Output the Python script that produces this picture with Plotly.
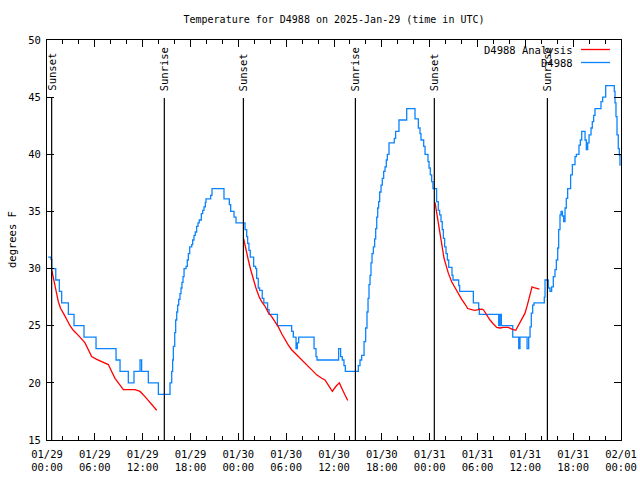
import pandas as pd
import plotly.graph_objects as go

BASE = pd.Timestamp("2025-01-29 00:00")

# Observed station temperature (hours since 01/29 00:00 UTC, degrees F), step series
obs_hours = [0.15, 0.5, 0.6, 1.1, 1.55, 1.84, 2.68, 3.39, 4.64, 6.15, 8.66, 9.16, 10.2, 10.91,
             11.67, 11.87, 12.71, 13.97, 15.43, 15.64, 15.76, 15.85, 16.02, 16.14, 16.27, 16.39,
             16.52, 16.68, 16.81, 16.93, 17.06, 17.19, 17.44, 17.6, 17.73, 17.9, 18.15, 18.27,
             18.44, 18.6, 18.77, 18.94, 19.1, 19.36, 19.53, 19.69, 19.86, 19.94, 20.53, 20.7,
             22.2, 22.87, 23.04, 23.46, 23.71, 24.84, 25.05, 25.17, 25.33, 25.5, 25.92, 26.17,
             26.3, 26.5, 26.67, 27.0, 27.2, 27.67, 27.85, 28.9, 30.69, 30.9, 31.24, 31.4, 31.57,
             33.5, 33.74, 33.87, 36.58, 36.83, 37.04, 37.25, 37.42, 39.05, 39.26, 39.47, 39.56,
             39.77, 39.97, 40.14, 40.27, 40.39, 40.52, 40.64, 40.77, 40.94, 41.1, 41.23, 41.36,
             41.48, 41.6, 41.73, 41.9, 42.06, 42.23, 42.4, 42.56, 42.69, 42.9, 43.56, 43.73,
             44.15, 45.12, 46.16, 46.58, 46.79, 46.91, 47.25, 47.42, 47.79, 47.92, 48.08, 48.25,
             48.41, 48.87, 49.08, 49.25, 49.42, 49.58, 49.72, 49.88, 50.05, 50.22, 50.39, 50.8,
             50.93, 51.64, 51.77, 53.48, 54.15, 54.23, 56.66, 56.82, 56.99, 58.42, 59.17, 59.33,
             60.22, 60.42, 60.59, 60.75, 60.92, 61.09, 62.38, 62.47, 62.89, 63.09, 63.3, 63.51,
             63.72, 63.89, 64.06, 64.18, 64.35, 64.48, 64.65, 64.81, 64.98, 65.14, 65.31, 65.68,
             65.9, 66.23, 66.4, 66.73, 66.9, 67.07, 67.49, 67.65, 67.82, 67.99, 68.24, 68.4,
             68.57, 68.74, 69.49, 69.7, 70.08, 71.16, 71.25, 71.37, 71.5, 71.66, 71.79, 71.87,
             71.95]
obs_temps = [31, 30.8, 30, 29, 28, 27, 26, 25, 24, 23, 22, 21, 20, 21,
             22, 21, 20, 19, 20, 21, 22, 23.2, 24.4, 25.5, 26.2, 26.8,
             27.3, 27.8, 28.3, 28.8, 29.3, 30.0, 30.2, 30.75, 31.3, 31.9, 32.1, 32.5,
             32.9, 33.2, 33.7, 34.0, 34.25, 34.8, 35.1, 35.4, 35.8, 36.1, 36.4, 37.0,
             36.1, 35.6, 35.0, 34.5, 34.0, 33.4, 32.8, 32.2, 31.6, 31.0, 30.2, 30.0,
             29.15, 28.3, 28.1, 27.4, 27.0, 26.4, 26.0, 25.0, 24.5, 24.0, 23.0, 23.5, 24.0,
             23.0, 22.3, 22.0, 23.0, 22.3, 22.0, 21.5, 21.0, 21.5, 22.0, 22.4, 22.4,
             23.6, 24.8, 26.2, 27.4, 28.6, 29.4, 30.5, 31.3, 31.9, 32.6, 33.5, 34.5,
             35.3, 35.85, 36.7, 37.3, 37.9, 38.5, 38.9, 39.5, 40.0, 41.0, 41.4, 42.0,
             43.0, 44.0, 43.1, 42.3, 41.8, 41.25, 40.7, 40.0, 39.35, 38.8, 38.2, 37.6,
             37.0, 35.85, 35.1, 34.7, 34.1, 33.4, 32.65, 31.9, 31.3, 30.75, 30.1, 29.4,
             29.0, 28.5, 28.0, 27.0, 26.5, 26.0, 25, 26, 25, 24, 23, 24,
             23, 24, 24.9, 26.1, 26.8, 27, 27.5, 29.0, 28.3, 28.0, 28.4, 29.3,
             29.9, 30.75, 31.8, 33.4, 34.7, 35.0, 34.6, 34.1, 35.3, 36.15, 37.0, 38.2,
             39.1, 39.8, 40.0, 40.8, 41.25, 42.0, 41.25, 40.4, 41.0, 41.7, 42.3, 42.85,
             43.4, 44.0, 44.6, 45.0, 46.0, 45.5, 44.5, 43.3, 41.7, 40.5, 39.9, 39.05,
             39.05]

# Analysis temperature (three nightly segments, None = gap)
ana_hours = [0.59, 0.79, 1.0, 1.21, 1.42, 1.71, 2.05, 2.47, 2.89, 3.3, 3.72, 4.14, 4.77, 5.19,
             5.6, 6.23, 6.86, 7.69, 8.11, 8.53, 9.16, 9.58, 11.04, 11.67, 12.29, 12.92, 13.76,
             None,
             24.67, 24.96, 25.25, 25.55, 25.88, 26.21, 26.63, 26.93, 27.35, 27.76, 28.18, 28.6,
             29.02, 29.44, 29.85, 30.27, 30.69, 31.11, 31.52, 32.15, 32.78, 33.2, 33.83, 34.46,
             34.87, 35.29, 35.79, 36.25, 36.67, 37.17, 37.72,
             None,
             48.67, 48.92, 49.17, 49.4, 49.6, 49.8, 50.05, 50.34, 50.76, 51.18, 51.59, 52.02,
             52.43, 52.77, 53.27, 53.69, 54.1, 54.53, 54.74, 55.15, 55.57, 55.99, 56.41, 56.82,
             57.24, 57.87, 58.3, 58.8, 59.21, 59.55, 59.96, 60.25, 60.59, 60.84, 61.21, 61.76]
ana_temps = [29.9, 29.3, 28.7, 27.8, 27.1, 26.5, 26.1, 25.5, 25.0, 24.6, 24.25, 24.0, 23.5, 22.9,
             22.3, 22.05, 21.85, 21.6, 21.0, 20.4, 19.8, 19.4, 19.4, 19.25, 18.8, 18.3, 17.6,
             None,
             32.6, 31.8, 30.75, 29.9, 29.0, 28.3, 27.5, 27.1, 26.7, 26.15, 25.8, 25.35,
             24.9, 24.3, 23.75, 23.3, 22.9, 22.6, 22.3, 21.85, 21.4, 21.1, 20.7, 20.4,
             20.25, 19.8, 19.25, 19.7, 20.0, 19.25, 18.45,
             None,
             35.8, 34.8, 33.7, 32.6, 31.7, 30.9, 30.3, 29.6, 28.85, 28.3, 27.8, 27.3,
             26.9, 26.5, 26.4, 26.35, 26.4, 26.45, 26.4, 25.9, 25.5, 25.15, 24.85, 24.8,
             24.85, 24.85, 24.7, 24.6, 25.1, 25.5, 26.1, 26.8, 27.7, 28.4, 28.3, 28.2]

sun_times = ["2025-01-29 00:35", "2025-01-29 14:43", "2025-01-30 00:38",
             "2025-01-30 14:41", "2025-01-31 00:35", "2025-01-31 14:46"]
sun_labels = ["Sunset", "Sunrise", "Sunset", "Sunrise", "Sunset", "Sunrise"]

title_text = "Temperature for D4988 on 2025-Jan-29 (time in UTC)"
y_title = "degrees F"
ana_name = "D4988 Analysis"
obs_name = "D4988"
RED = "#ff0000"
BLUE = "#0a84ff"
FONT = "DejaVu Sans Mono"


def to_time(hours):
    return [None if h is None else BASE + pd.Timedelta(hours=h) for h in hours]


fig = go.Figure()
fig.add_trace(go.Scatter(x=to_time(obs_hours), y=obs_temps, mode="lines",
                         line=dict(color=BLUE, width=1.3, shape="hv"), name=obs_name,
                         showlegend=False))
fig.add_trace(go.Scatter(x=to_time(ana_hours), y=ana_temps, mode="lines",
                         line=dict(color=RED, width=1.3), name=ana_name,
                         connectgaps=False, showlegend=False))

L, R, T, B = 47, 19, 40, 40
W, H = 640, 480
pw, ph = W - L - R, H - T - B


def px(xp):
    return (xp - L) / pw


def py(yp):
    return (H - B - yp) / ph


shapes = []
annotations = []
for t, lab in zip(sun_times, sun_labels):
    shapes.append(dict(type="line", xref="x", yref="paper", x0=t, x1=t, y0=0, y1=py(98),
                       line=dict(color="black", width=1.2)))
    annotations.append(dict(x=t, xref="x", y=py(93), yref="paper", text=lab, textangle=-90,
                            showarrow=False, xanchor="center", yanchor="bottom",
                            font=dict(family=FONT, size=10.5, color="black")))

# legend (text left of sample, as in the reference)
for name, color, ypix in [(ana_name, RED, 49.5), (obs_name, BLUE, 62.5)]:
    annotations.append(dict(x=px(575), xref="paper", y=py(ypix), yref="paper", text=name,
                            showarrow=False, xanchor="right", yanchor="middle",
                            font=dict(family=FONT, size=10.5, color="black")))
    shapes.append(dict(type="line", xref="paper", yref="paper", x0=px(581), x1=px(610),
                       y0=py(ypix), y1=py(ypix), line=dict(color=color, width=1.3)))

annotations.append(dict(x=px(12), xref="paper", y=0.5, yref="paper", text=y_title,
                        textangle=-90, showarrow=False, xanchor="center", yanchor="middle",
                        font=dict(family=FONT, size=10.5, color="black")))

fig.update_layout(
    width=W, height=H,
    margin=dict(l=L, r=R, t=T, b=B, pad=0, autoexpand=False),
    paper_bgcolor="white", plot_bgcolor="white",
    font=dict(family=FONT, size=10.5, color="black"),
    title=dict(text=title_text, xref="paper", x=px(334), xanchor="center",
               yref="container", y=1 - 19 / H, yanchor="middle",
               font=dict(family=FONT, size=10, color="black"), automargin=False),
    shapes=shapes, annotations=annotations,
    showlegend=False,
)
fig.update_xaxes(
    type="date", range=["2025-01-29 00:00", "2025-02-01 00:00"], automargin=False,
    dtick=6 * 3600 * 1000, tick0="2025-01-29 00:00", tickformat="%m/%d<br>%H:%M",
    ticks="inside", ticklen=7, tickwidth=1, tickcolor="black", ticklabelstandoff=4,
    minor=dict(dtick=2 * 3600 * 1000, ticks="inside", ticklen=4, tickcolor="black", showgrid=False),
    showline=True, linecolor="black", linewidth=1, mirror="allticks",
    showgrid=False, zeroline=False,
    tickfont=dict(family=FONT, size=10.5, color="black"),
)
fig.update_yaxes(
    range=[15, 50], dtick=5, tick0=15, automargin=False,
    ticks="inside", ticklen=7, tickwidth=1, tickcolor="black", ticklabelstandoff=3,
    showline=True, linecolor="black", linewidth=1, mirror="allticks",
    showgrid=False, zeroline=False,
    tickfont=dict(family=FONT, size=10.5, color="black"),
)

fig.write_html("out.html", config={"displayModeBar": False},
               post_script="document.body.style.margin='0';document.body.style.overflow='hidden';")
